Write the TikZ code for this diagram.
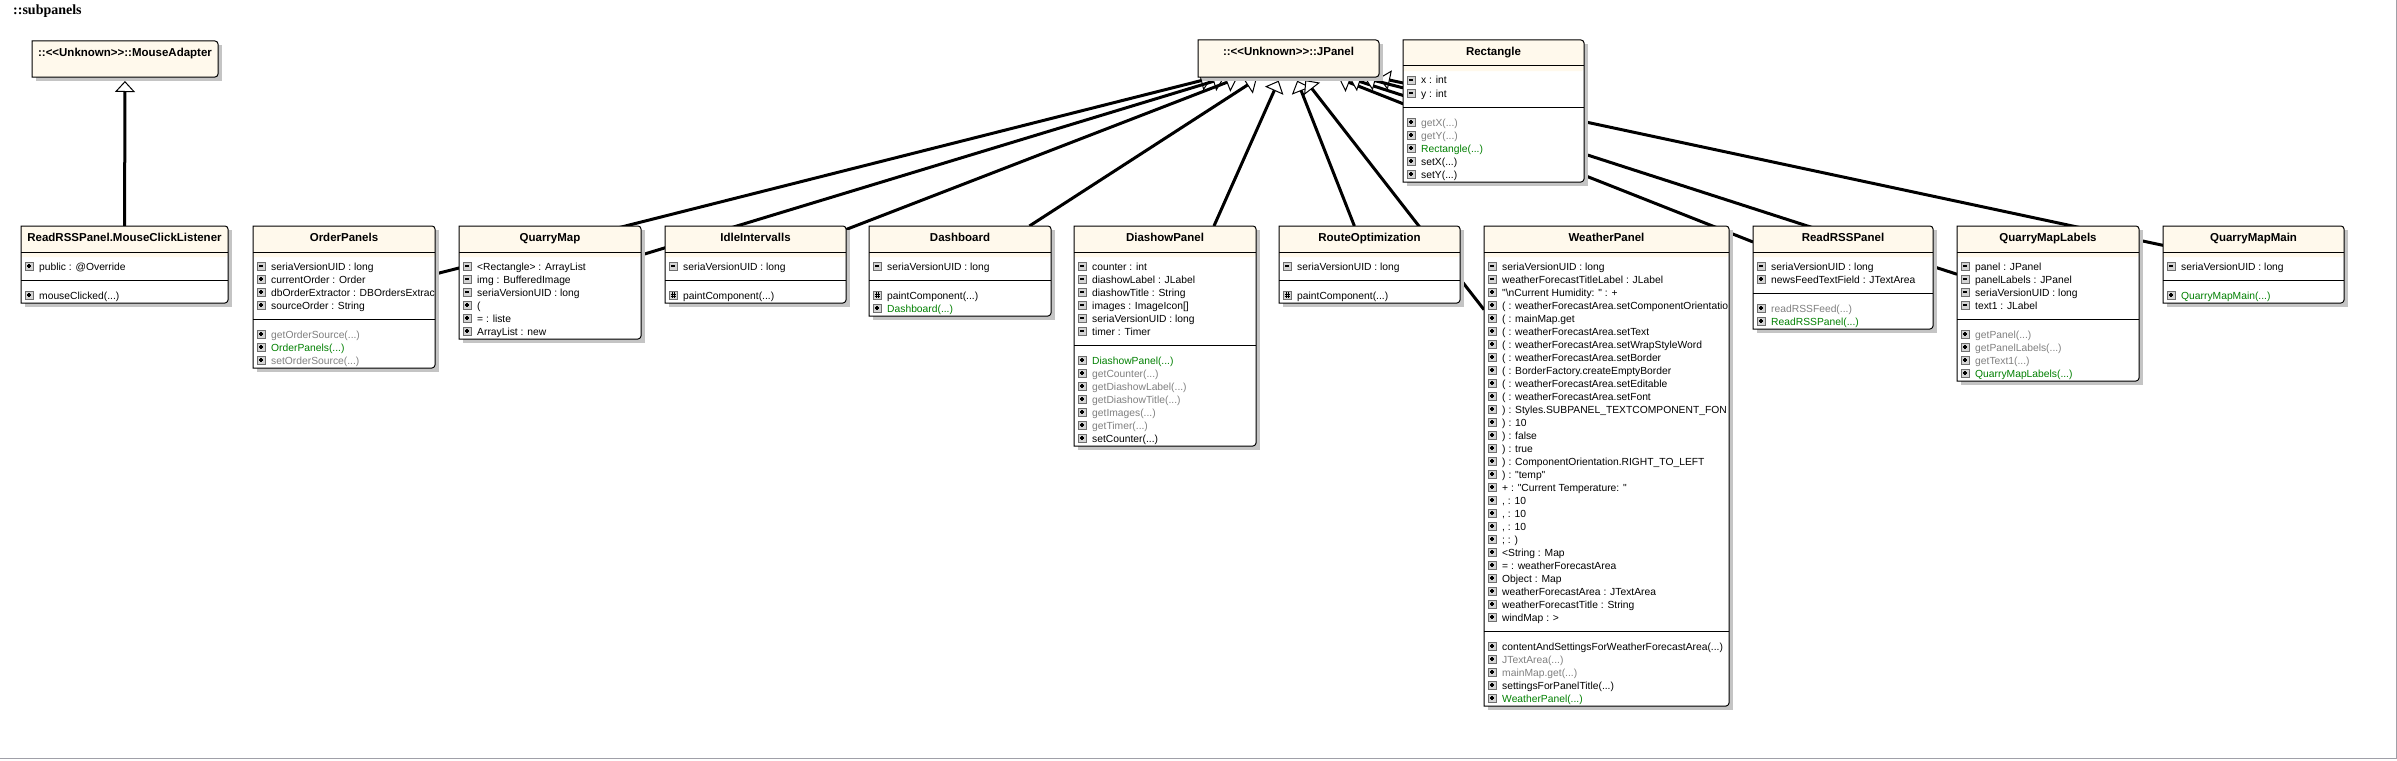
\documentclass[tikz,border=0pt]{standalone}
\usepackage{fontspec}
\setmainfont{Liberation Sans}[Ligatures=TeXOff]
\newfontfamily\headserif{Liberation Serif}[Ligatures=TeXOff]
\usetikzlibrary{arrows.meta,fit}
\pgfdeclarelayer{bg}
\pgfsetlayers{bg,main}
\definecolor{cream}{RGB}{255,249,236}
\definecolor{shadowc}{RGB}{196,196,196}
\definecolor{greentxt}{RGB}{0,128,0}
\definecolor{graytxt}{RGB}{128,128,128}
\definecolor{iconfill}{RGB}{212,212,212}
\definecolor{iconedge}{RGB}{110,110,110}
\definecolor{framec}{RGB}{160,160,168}
\tikzset{
  boxline/.style={draw=black, line width=1pt},
  rowf/.style={font=\fontsize{10.3}{12}\selectfont, inner sep=0pt, anchor=base west},
  titlef/.style={font=\bfseries\fontsize{11.5}{13}\selectfont, inner sep=0pt, anchor=base},
  iconbox/.style={fill=iconfill, draw=iconedge, line width=0.8pt},
  iconsign/.style={draw=black, line width=1.3pt},
  hashsign/.style={draw=black, line width=0.6pt},
  inherit/.style={draw=black, line width=3pt, shorten >=4pt, -{Triangle[fill=white, length=11pt, width=20pt, line width=1pt]}},
  boxnode/.style={inner sep=0pt, outer sep=0pt},
}
% icons
\newcommand{\iminus}[2]{\filldraw[iconbox] (#1,#2-4) rectangle (#1+8,#2+4); \draw[iconsign] (#1+2,#2) -- (#1+6,#2);}
\newcommand{\iplus}[2]{\filldraw[iconbox] (#1,#2-4) rectangle (#1+8,#2+4); \draw[iconsign] (#1+2,#2) -- (#1+6,#2) (#1+4,#2-2) -- (#1+4,#2+2);}
\newcommand{\ihash}[2]{\filldraw[iconbox] (#1,#2-4) rectangle (#1+8,#2+4); \draw[hashsign] (#1+3,#2-3) -- (#1+3,#2+3) (#1+5,#2-3) -- (#1+5,#2+3) (#1+1.5,#2-1) -- (#1+6.5,#2-1) (#1+1.5,#2+1) -- (#1+6.5,#2+1);}
% row: box-left, y, icon, colour, text
\newcommand{\rowt}[5]{#3{#1+4}{#2}\node[rowf, text=#4] at (#1+18,#2+4) {#5};}
% separator
\newcommand{\asep}[3]{\draw[boxline] (#1,#3) -- (#2,#3);}
% class box: id, x1, y1, x2, y2, title
\newcommand{\umlbox}[6]{%
  \fill[shadowc] (#2+4,#3+4) rectangle (#4+4,#5+4);
  \fill[white] (#2,#3) rectangle (#4,#5);
  \fill[cream] (#2,#3+31) -- (#2,#3) [rounded corners=3pt] -- (#4,#3) -- (#4,#3+31) [sharp corners] -- cycle;
  \draw[boxline] (#2,#3+26) -- (#4,#3+26);
  \draw[boxline] (#2,#5) -- (#2,#3) [rounded corners=3pt] -- (#4,#3) -- (#4,#5) [sharp corners] -- cycle;
  \node[boxnode, fit={(#2,#3) (#4,#5)}] (#1) {};
  \node[titlef] at ({(#2+#4)/2},#3+15.5) {#6};
}
% external (unknown) box
\newcommand{\extbox}[6]{%
  \fill[shadowc] (#2+4,#3+4) rectangle (#4+4,#5+4);
  \fill[cream] (#2,#5) -- (#2,#3) [rounded corners=3pt] -- (#4,#3) -- (#4,#5) [sharp corners] -- cycle;
  \draw[boxline] (#2,#5) -- (#2,#3) [rounded corners=3pt] -- (#4,#3) -- (#4,#5) [sharp corners] -- cycle;
  \node[boxnode, fit={(#2,#3) (#4,#5)}] (#1) {};
  \node[titlef] at ({(#2+#4)/2},#3+15.5) {#6};
}
\begin{document}
\begin{tikzpicture}[x=1pt,y=-1pt]
\useasboundingbox (0,0) rectangle (2397,760);

\node[font=\headserif\bfseries\fontsize{14}{16}\selectfont, anchor=base west, inner sep=0pt] (pkgtitle) at (13,15) {::subpanels};

\extbox{madapter}{32}{41}{218}{77}{::<<Unknown>>::MouseAdapter}
\extbox{jpanel}{1198}{40}{1379}{77}{::<<Unknown>>::JPanel}

% Rectangle
\umlbox{rectangle}{1403}{40}{1584}{182}{Rectangle}
\begin{scope}\clip (1403,40) rectangle (1583.5,182);
\rowt{1403}{80}{\iminus}{black}{x : int}
\rowt{1403}{93}{\iminus}{black}{y : int}
\rowt{1403}{122}{\iplus}{graytxt}{getX(...)}
\rowt{1403}{135}{\iplus}{graytxt}{getY(...)}
\rowt{1403}{148}{\iplus}{greentxt}{Rectangle(...)}
\rowt{1403}{161}{\iplus}{black}{setX(...)}
\rowt{1403}{174}{\iplus}{black}{setY(...)}
\end{scope}
\asep{1403}{1584}{107}

% ReadRSSPanel.MouseClickListener
\umlbox{mcl}{21}{226}{228}{303}{ReadRSSPanel.MouseClickListener}
\begin{scope}\clip (21,226) rectangle (227.5,303);
\rowt{21}{266}{\iplus}{black}{public : @Override}
\rowt{21}{295}{\iplus}{black}{mouseClicked(...)}
\end{scope}
\asep{21}{228}{280}

% OrderPanels
\umlbox{orderpanels}{253}{226}{435}{368}{OrderPanels}
\begin{scope}\clip (253,226) rectangle (434.5,368);
\rowt{253}{266}{\iminus}{black}{seriaVersionUID : long}
\rowt{253}{279}{\iplus}{black}{currentOrder : Order}
\rowt{253}{292}{\iplus}{black}{dbOrderExtractor : DBOrdersExtrac}
\rowt{253}{305}{\iplus}{black}{sourceOrder : String}
\rowt{253}{334}{\iplus}{graytxt}{getOrderSource(...)}
\rowt{253}{347}{\iplus}{greentxt}{OrderPanels(...)}
\rowt{253}{360}{\iplus}{graytxt}{setOrderSource(...)}
\end{scope}
\asep{253}{435}{319}

% QuarryMap
\umlbox{quarrymap}{459}{226}{641}{339}{QuarryMap}
\begin{scope}\clip (459,226) rectangle (640.5,339);
\rowt{459}{266}{\iminus}{black}{<Rectangle> : ArrayList}
\rowt{459}{279}{\iminus}{black}{img : BufferedImage}
\rowt{459}{292}{\iminus}{black}{seriaVersionUID : long}
\rowt{459}{305}{\iplus}{black}{(}
\rowt{459}{318}{\iplus}{black}{= : liste}
\rowt{459}{331}{\iplus}{black}{ArrayList : new}
\end{scope}

% IdleIntervalls
\umlbox{idle}{665}{226}{846}{303}{IdleIntervalls}
\begin{scope}\clip (665,226) rectangle (845.5,303);
\rowt{665}{266}{\iminus}{black}{seriaVersionUID : long}
\rowt{665}{295}{\ihash}{black}{paintComponent(...)}
\end{scope}
\asep{665}{846}{280}

% Dashboard
\umlbox{dashboard}{869}{226}{1051}{316}{Dashboard}
\begin{scope}\clip (869,226) rectangle (1050.5,316);
\rowt{869}{266}{\iminus}{black}{seriaVersionUID : long}
\rowt{869}{295}{\ihash}{black}{paintComponent(...)}
\rowt{869}{308}{\iplus}{greentxt}{Dashboard(...)}
\end{scope}
\asep{869}{1051}{280}

% DiashowPanel
\umlbox{diashow}{1074}{226}{1256}{446}{DiashowPanel}
\begin{scope}\clip (1074,226) rectangle (1255.5,446);
\rowt{1074}{266}{\iminus}{black}{counter : int}
\rowt{1074}{279}{\iminus}{black}{diashowLabel : JLabel}
\rowt{1074}{292}{\iminus}{black}{diashowTitle : String}
\rowt{1074}{305}{\iminus}{black}{images : ImageIcon[]}
\rowt{1074}{318}{\iminus}{black}{seriaVersionUID : long}
\rowt{1074}{331}{\iminus}{black}{timer : Timer}
\rowt{1074}{360}{\iplus}{greentxt}{DiashowPanel(...)}
\rowt{1074}{373}{\iplus}{graytxt}{getCounter(...)}
\rowt{1074}{386}{\iplus}{graytxt}{getDiashowLabel(...)}
\rowt{1074}{399}{\iplus}{graytxt}{getDiashowTitle(...)}
\rowt{1074}{412}{\iplus}{graytxt}{getImages(...)}
\rowt{1074}{425}{\iplus}{graytxt}{getTimer(...)}
\rowt{1074}{438}{\iplus}{black}{setCounter(...)}
\end{scope}
\asep{1074}{1256}{345}

% RouteOptimization
\umlbox{route}{1279}{226}{1460}{303}{RouteOptimization}
\begin{scope}\clip (1279,226) rectangle (1459.5,303);
\rowt{1279}{266}{\iminus}{black}{seriaVersionUID : long}
\rowt{1279}{295}{\ihash}{black}{paintComponent(...)}
\end{scope}
\asep{1279}{1460}{280}

% WeatherPanel
\umlbox{weather}{1484}{226}{1729}{706}{WeatherPanel}
\begin{scope}\clip (1484,226) rectangle (1728.5,706);
\rowt{1484}{266}{\iminus}{black}{seriaVersionUID : long}
\rowt{1484}{279}{\iminus}{black}{weatherForecastTitleLabel : JLabel}
\rowt{1484}{292}{\iplus}{black}{"\textbackslash nCurrent Humidity: " : +}
\rowt{1484}{305}{\iplus}{black}{( : weatherForecastArea.setComponentOrientatio}
\rowt{1484}{318}{\iplus}{black}{( : mainMap.get}
\rowt{1484}{331}{\iplus}{black}{( : weatherForecastArea.setText}
\rowt{1484}{344}{\iplus}{black}{( : weatherForecastArea.setWrapStyleWord}
\rowt{1484}{357}{\iplus}{black}{( : weatherForecastArea.setBorder}
\rowt{1484}{370}{\iplus}{black}{( : BorderFactory.createEmptyBorder}
\rowt{1484}{383}{\iplus}{black}{( : weatherForecastArea.setEditable}
\rowt{1484}{396}{\iplus}{black}{( : weatherForecastArea.setFont}
\rowt{1484}{409}{\iplus}{black}{) : Styles.SUBPANEL\_TEXTCOMPONENT\_FON}
\rowt{1484}{422}{\iplus}{black}{) : 10}
\rowt{1484}{435}{\iplus}{black}{) : false}
\rowt{1484}{448}{\iplus}{black}{) : true}
\rowt{1484}{461}{\iplus}{black}{) : ComponentOrientation.RIGHT\_TO\_LEFT}
\rowt{1484}{474}{\iplus}{black}{) : "temp"}
\rowt{1484}{487}{\iplus}{black}{+ : "Current Temperature: "}
\rowt{1484}{500}{\iplus}{black}{, : 10}
\rowt{1484}{513}{\iplus}{black}{, : 10}
\rowt{1484}{526}{\iplus}{black}{, : 10}
\rowt{1484}{539}{\iplus}{black}{; : )}
\rowt{1484}{552}{\iplus}{black}{<String : Map}
\rowt{1484}{565}{\iplus}{black}{= : weatherForecastArea}
\rowt{1484}{578}{\iplus}{black}{Object : Map}
\rowt{1484}{591}{\iplus}{black}{weatherForecastArea : JTextArea}
\rowt{1484}{604}{\iplus}{black}{weatherForecastTitle : String}
\rowt{1484}{617}{\iplus}{black}{windMap : >}
\rowt{1484}{646}{\iplus}{black}{contentAndSettingsForWeatherForecastArea(...)}
\rowt{1484}{659}{\iplus}{graytxt}{JTextArea(...)}
\rowt{1484}{672}{\iplus}{graytxt}{mainMap.get(...)}
\rowt{1484}{685}{\iplus}{black}{settingsForPanelTitle(...)}
\rowt{1484}{698}{\iplus}{greentxt}{WeatherPanel(...)}
\end{scope}
\asep{1484}{1729}{631}

% ReadRSSPanel
\umlbox{readrss}{1753}{226}{1933}{329}{ReadRSSPanel}
\begin{scope}\clip (1753,226) rectangle (1932.5,329);
\rowt{1753}{266}{\iminus}{black}{seriaVersionUID : long}
\rowt{1753}{279}{\iplus}{black}{newsFeedTextField : JTextArea}
\rowt{1753}{308}{\iplus}{graytxt}{readRSSFeed(...)}
\rowt{1753}{321}{\iplus}{greentxt}{ReadRSSPanel(...)}
\end{scope}
\asep{1753}{1933}{293}

% QuarryMapLabels
\umlbox{qmlabels}{1957}{226}{2139}{381}{QuarryMapLabels}
\begin{scope}\clip (1957,226) rectangle (2138.5,381);
\rowt{1957}{266}{\iminus}{black}{panel : JPanel}
\rowt{1957}{279}{\iminus}{black}{panelLabels : JPanel}
\rowt{1957}{292}{\iminus}{black}{seriaVersionUID : long}
\rowt{1957}{305}{\iminus}{black}{text1 : JLabel}
\rowt{1957}{334}{\iplus}{graytxt}{getPanel(...)}
\rowt{1957}{347}{\iplus}{graytxt}{getPanelLabels(...)}
\rowt{1957}{360}{\iplus}{graytxt}{getText1(...)}
\rowt{1957}{373}{\iplus}{greentxt}{QuarryMapLabels(...)}
\end{scope}
\asep{1957}{2139}{319}

% QuarryMapMain
\umlbox{qmmain}{2163}{226}{2344}{303}{QuarryMapMain}
\begin{scope}\clip (2163,226) rectangle (2343.5,303);
\rowt{2163}{266}{\iminus}{black}{seriaVersionUID : long}
\rowt{2163}{295}{\iplus}{greentxt}{QuarryMapMain(...)}
\end{scope}
\asep{2163}{2344}{280}

% frame
\draw[framec, line width=1.2pt] (0,758.5) -- (2396.3,758.5) -- (2396.3,0);

\begin{pgfonlayer}{bg}
\fill[white] (0,0) rectangle (2397,760);
\draw[inherit] (mcl) -- (madapter);
\foreach \cls in {orderpanels,quarrymap,idle,dashboard,diashow,route,weather,readrss,qmlabels,qmmain,rectangle}
  \draw[inherit] (\cls) -- (jpanel);
\end{pgfonlayer}
\end{tikzpicture}
\end{document}
